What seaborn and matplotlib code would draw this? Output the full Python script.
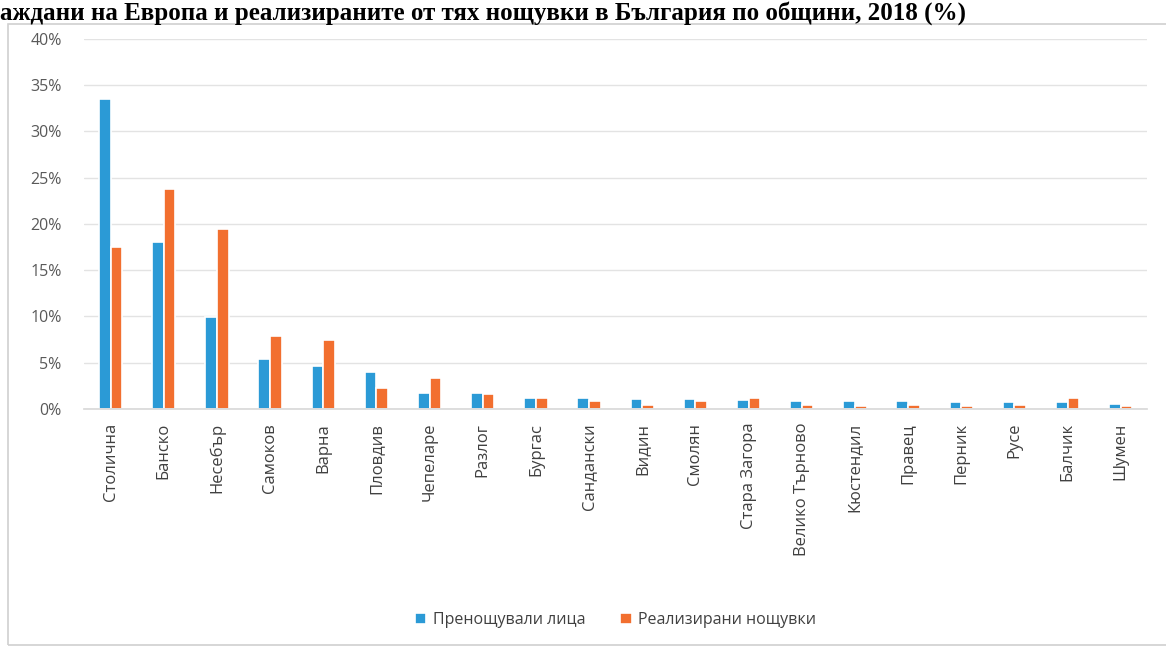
import matplotlib
matplotlib.use("Agg")
import matplotlib.pyplot as plt
import matplotlib.patches as mpatches
from matplotlib.ticker import FuncFormatter
import seaborn as sns
import pandas as pd

municipalities = ["Столична", "Банско", "Несебър", "Самоков", "Варна", "Пловдив",
                  "Чепеларе", "Разлог", "Бургас", "Сандански", "Видин", "Смолян",
                  "Стара Загора", "Велико Търново", "Кюстендил", "Правец", "Перник",
                  "Русе", "Балчик", "Шумен"]
persons = [33.5, 18.0, 9.9, 5.4, 4.6, 4.0, 1.7, 1.7, 1.2, 1.2, 1.1, 1.1, 1.0, 0.9,
           0.8, 0.8, 0.7, 0.7, 0.7, 0.5]
nights = [17.5, 23.8, 19.5, 7.9, 7.5, 2.3, 3.3, 1.6, 1.2, 0.8, 0.4, 0.8, 1.2, 0.4,
          0.3, 0.4, 0.3, 0.4, 1.2, 0.3]
series_names = ["Пренощували лица", "Реализирани нощувки"]
yticks = [0, 5, 10, 15, 20, 25, 30, 35, 40]
title = "аждани на Европа и реализираните от тях нощувки в България по общини, 2018 (%)"

df = pd.DataFrame({
    "Община": municipalities * 2,
    "Стойност": persons + nights,
    "Серия": [series_names[0]] * len(municipalities) + [series_names[1]] * len(municipalities),
})

sns.set_theme(style="white")
plt.rcParams["font.family"] = ["Open Sans", "DejaVu Sans"]

fig = plt.figure(figsize=(11.66, 6.49), dpi=100)
ax = fig.add_axes([0.072, 0.370, 0.912, 0.570])

palette = {series_names[0]: "#2B9AD6", series_names[1]: "#F26F2F"}
sns.barplot(data=df, x="Община", y="Стойност", hue="Серия", palette=palette,
            width=0.44, ax=ax, edgecolor="white", linewidth=1.2, saturation=1)

ax.set_ylim(0, 40)
ax.set_yticks(yticks)
ax.yaxis.set_major_formatter(FuncFormatter(lambda v, p: f"{int(v)}%"))
ax.grid(axis="y", color="#E3E3E3", linewidth=1)
ax.set_axisbelow(True)
for s in ["top", "right", "left"]:
    ax.spines[s].set_visible(False)
ax.spines["bottom"].set_color("#D9D9D9")
ax.set_xlabel("")
ax.set_ylabel("")
ax.tick_params(axis="y", labelsize=11.5, labelcolor="#595959", length=0, pad=16)
ax.tick_params(axis="x", labelsize=12, labelcolor="#404040", length=0, pad=10)
for lbl in ax.get_xticklabels():
    lbl.set_rotation(90)

ax.legend(loc="center", bbox_to_anchor=(0.5, (1 - 620/649 - 0.370) / 0.570),
          ncol=2, frameon=False, fontsize=11.5, handlelength=0.7, handleheight=0.7,
          columnspacing=2.2, handletextpad=0.4, labelcolor="#404040")

fig.patches.append(mpatches.Rectangle((8/1166, 4/649), 1.0, 1 - 24/649 - 4/649,
                                      transform=fig.transFigure, fill=False,
                                      edgecolor="#D0D0D0", linewidth=1.2))

fig.text(0.0, 1 - 1/649, title, ha="left", va="top",
         fontfamily="Liberation Serif", fontweight="bold", fontsize=18, color="black")

fig.savefig("out.png", dpi=100)
